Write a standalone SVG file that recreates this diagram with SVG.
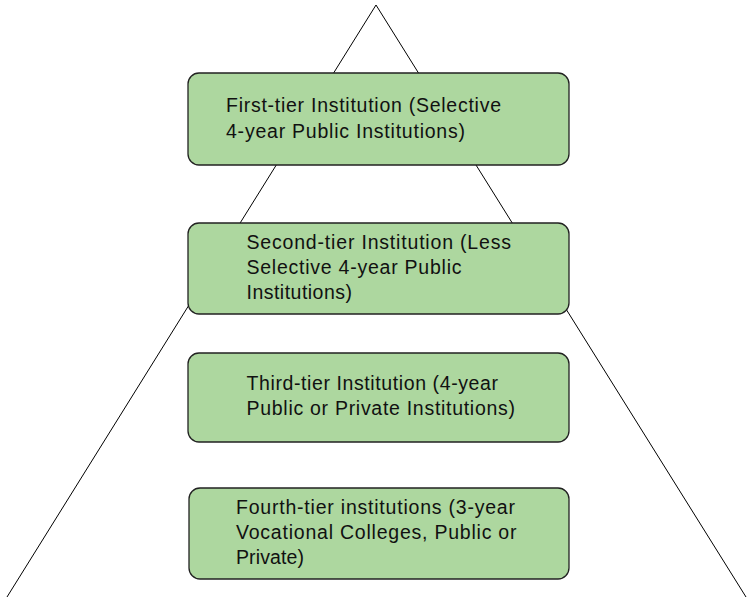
<svg xmlns="http://www.w3.org/2000/svg" width="749" height="597" viewBox="0 0 749 597">
<style>
.box{fill:#add79f;stroke:#222;stroke-width:1.3}
.t{font-family:"Liberation Sans",Arial,sans-serif;font-size:19.5px;fill:#111}
.edge{fill:none;stroke:#000;stroke-width:1}
</style>
<rect width="749" height="597" fill="#fff"/>
<g id="connectors">
<polyline class="edge" points="7,597 376,5 746,597"/>
</g>
<g id="tier1">
<rect class="box" x="188" y="73" width="381" height="92" rx="11"/>
<text class="t" lengthAdjust="spacing"><tspan x="226" y="112" textLength="275">First-tier Institution (Selective</tspan><tspan x="226" y="137.5" textLength="239">4-year Public Institutions)</tspan></text>
</g>
<g id="tier2">
<rect class="box" x="188" y="223" width="381" height="91" rx="11"/>
<text class="t"><tspan x="246.5" y="249" textLength="264.5">Second-tier Institution (Less</tspan><tspan x="246.5" y="274" textLength="215">Selective 4-year Public</tspan><tspan x="246.5" y="299" textLength="105.5">Institutions)</tspan></text>
</g>
<g id="tier3">
<rect class="box" x="188" y="353" width="381" height="89" rx="11"/>
<text class="t"><tspan x="246.5" y="390" textLength="251.5">Third-tier Institution (4-year</tspan><tspan x="246.5" y="415" textLength="268.5">Public or Private Institutions)</tspan></text>
</g>
<g id="tier4">
<rect class="box" x="189" y="488" width="380" height="91" rx="11"/>
<text class="t"><tspan x="236" y="514" textLength="279">Fourth-tier institutions (3-year</tspan><tspan x="236" y="539" textLength="280.5">Vocational Colleges, Public or</tspan><tspan x="236" y="564" textLength="68">Private)</tspan></text>
</g>
</svg>
